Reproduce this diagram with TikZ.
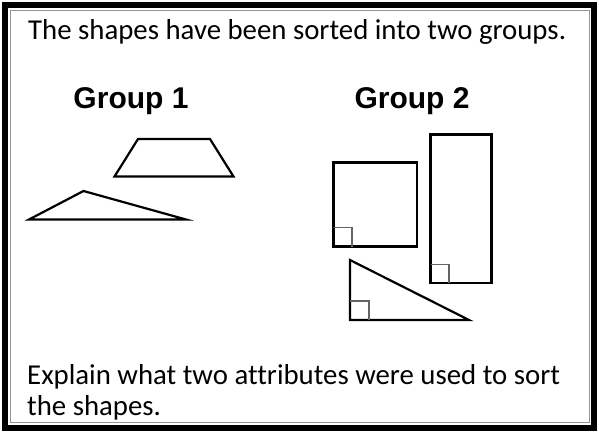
\documentclass[tikz,border=0pt]{standalone}
\usepackage{fontspec}
\setmainfont{Carlito}[Ligatures=NoCommon]
\newfontfamily\grpfont{Liberation Sans}
\usepackage{xcolor}
\usepackage{tikz}
\usetikzlibrary{positioning}
\definecolor{framegray}{RGB}{150,150,150}
\definecolor{markgray}{RGB}{100,100,100}

\begin{document}
\begin{tikzpicture}[x=1pt, y=-1pt,
    prompt/.style={anchor=base west, inner sep=0pt, font=\fontsize{28.8}{31}\selectfont},
    grouplabel/.style={anchor=base, inner sep=0pt, font=\grpfont\bfseries\fontsize{30}{34}\selectfont},
    shapeline/.style={line width=2.2pt, line join=miter},
    rightmark/.style={line width=1.1pt, markgray}]
  \useasboundingbox (0,0) rectangle (599,434);

  % frame
  \draw[line width=6pt] (4.5,4.5) rectangle (593.5,427.5);
  \draw[framegray, line width=0.8pt] (10,10) rectangle (589,422.5);

  % question text
  \node[prompt] (intro) at (28,39) {The shapes have been sorted into two groups.};
  \node[prompt] (expl1) at (27,384) {Explain what two attributes were used to sort};
  \node[prompt] (expl2) at (27,415) {the shapes.};

  % --- Group 1 ---
  \node[grouplabel] (g1) at (131,108) {Group 1};
  \draw[shapeline] (138,139) -- (210,139) -- (233.5,176.5) -- (114.5,176.5) -- cycle;
  \draw[shapeline] (29,219.5) -- (83.5,191) -- (186,219.5) -- cycle;

  % --- Group 2 ---
  \node[grouplabel] (g2) at (412,108) {Group 2};
  % square
  \draw[shapeline] (333.5,162.5) rectangle (417,246.5);
  \draw[rightmark] (333.5,227.5) -| (352,246.5);
  % tall rectangle
  \draw[shapeline] (430.5,134.5) rectangle (491.5,283);
  \draw[rightmark] (430.5,264.5) -| (449,283);
  % right triangle
  \draw[shapeline] (350,260) -- (350,320) -- (469,320) -- cycle;
  \draw[rightmark] (350,301) -| (369,320);
\end{tikzpicture}
\end{document}
